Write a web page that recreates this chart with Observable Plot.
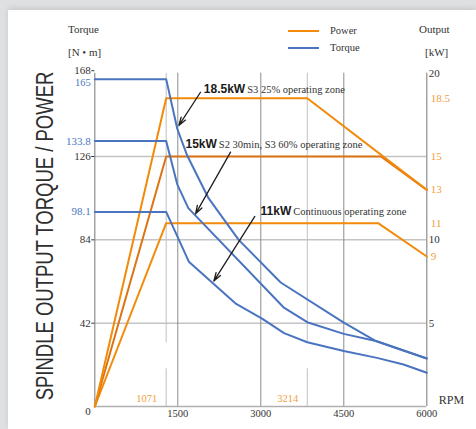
<!DOCTYPE html>
<html><head><meta charset="utf-8">
<script src="https://cdn.jsdelivr.net/npm/d3@7"></script>
<script src="https://cdn.jsdelivr.net/npm/@observablehq/plot@0.6"></script>
<style>
html,body{margin:0;padding:0;}
body{width:476px;height:429px;background:#dfe0e2;position:relative;overflow:hidden;font-family:"Liberation Serif",serif;}
#card{position:absolute;left:8px;top:10px;width:468px;height:419px;background:#fff;box-shadow:0 -2px 5px rgba(0,0,0,0.10);}
#chart{position:absolute;left:8px;top:10px;}
.lbl{position:absolute;font-size:11px;line-height:11px;color:#333;white-space:nowrap;}
.lg{position:absolute;height:2px;width:31px;}
</style></head><body>
<div id="card"></div>
<div id="chart"></div>
<div class="lbl" style="left:68px;top:24px;">Torque</div>
<div class="lbl" style="left:68px;top:47px;">[N • m]</div>
<div class="lbl" style="left:419px;top:24px;">Output</div>
<div class="lbl" style="left:425px;top:47px;">[kW]</div>
<div class="lg" style="left:288px;top:30px;background:#f28a0a;"></div>
<div class="lbl" style="left:330px;top:25px;font-size:10.5px;">Power</div>
<div class="lg" style="left:288px;top:47px;background:#4a74c0;"></div>
<div class="lbl" style="left:330px;top:42px;font-size:10.5px;">Torque</div>
<script>
// ---- data ----
const kwToNm = 168 / 20;           // right axis (kW) is linear with left axis (N·m)
const orange = "#f28a0a", orange15 = "#dc7414", blue = "#4a74c0";
const orangeText = "#f0a040", blueText = "#4a78c0";

const power185 = [[0,0],[1290,18.5],[3840,18.5],[6000,13]];
const power15  = [[0,0],[1290,15],[5170,15],[6000,13]];
const power11  = [[0,0],[1290,11],[5120,11],[6000,9]];

const torque185 = [[0,165],[1290,165],[1490,140],[1670,126.5],[2055,105],[2600,84],[3360,62.5],[4500,42.3],[5080,33],[6000,24.2]];
const torque15  = [[0,133.8],[1290,133.8],[1490,112],[1690,100],[3410,50],[3840,42.5],[4500,36.6],[5080,33],[6000,24.2]];
const torque11  = [[0,98.1],[1290,98.1],[1700,73],[2540,52],[3030,44.2],[3420,37],[3840,32.4],[4500,28],[5100,24.5],[5580,21.2],[6000,17]];

const xTicks = [1500, 3000, 4500, 6000];
const yTicksBlack = [42, 84, 126];
const yTickTop = [168];
const yTicksBlue = [98.1, 133.8];
const yTickBlueTop = [165];
const kwTicksBlack = [5, 10, 20];
const kwTicksOrange = [9, 11, 13, 15, 18.5];
const hGrid = [42, 84, 126];
const vGrid = [1500, 3000, 4500];
const markRpm = [1290, 3840];
const markLabels = ["1071", "3214"];

const annotations = [
  {x: 1970, y: 160.1, bold: "18.5kW", rest: "S3 25% operating zone"},
  {x: 1639, y: 132,   bold: "15kW",   rest: "S2 30min, S3 60% operating zone"},
  {x: 2995, y: 98.4,  bold: "11kW",   rest: "Continuous operating zone"}
];
const arrows = [
  {x1: 1910, y1: 158.4, x2: 1518, y2: 141.6},
  {x1: 2453, y1: 128.2, x2: 1821, y2: 97.1},
  {x1: 2892, y1: 95.8,  x2: 2151, y2: 63.2}
];

const kwLine = arr => arr.map(([r, k]) => ({x: r, y: k * kwToNm}));
const nmLine = arr => arr.map(([r, t]) => ({x: r, y: t}));
const fmtKw = d => String(+(d / kwToNm).toFixed(1));

const plot = Plot.plot({
  width: 468, height: 419,
  marginLeft: 86.3, marginRight: 49.7, marginTop: 62.7, marginBottom: 23,
  style: {background: "transparent", fontFamily: "'Liberation Serif', serif", fontSize: "11px", color: "#333", overflow: "visible"},
  x: {domain: [0, 6000]},
  y: {domain: [0, 168]},
  marks: [
    Plot.ruleY(hGrid, {stroke: "#c4c4c4", strokeWidth: 1.5}),
    Plot.ruleX(vGrid, {stroke: "#8c8c8c", strokeWidth: 1}),
    Plot.ruleX(markRpm, {y1: 32, y2: 168, stroke: "#c0c0c0", strokeWidth: 1}),
    Plot.ruleX(markRpm, {y1: 0, y2: 19, stroke: "#c0c0c0", strokeWidth: 1}),
    Plot.ruleX([0, 6000], {stroke: "#8c8c8c", strokeWidth: 1.2}),
    Plot.ruleY([0], {stroke: "#b0b0b0", strokeWidth: 1.5}),
    Plot.text(markLabels, {x: markRpm, y: 0, text: d => d, dx: -9, dy: -8, textAnchor: "end", fill: orangeText, fontSize: 10.5}),
    Plot.line(kwLine(power11), {x: "x", y: "y", stroke: orange, strokeWidth: 2}),
    Plot.line(kwLine(power15), {x: "x", y: "y", stroke: orange15, strokeWidth: 2}),
    Plot.line(kwLine(power185), {x: "x", y: "y", stroke: orange, strokeWidth: 2}),
    Plot.line(nmLine(torque11), {x: "x", y: "y", stroke: blue, strokeWidth: 2}),
    Plot.line(nmLine(torque15), {x: "x", y: "y", stroke: blue, strokeWidth: 2}),
    Plot.line(nmLine(torque185), {x: "x", y: "y", stroke: blue, strokeWidth: 2}),
    Plot.axisX({ticks: xTicks, tickFormat: d => String(d), tickSize: 0, tickPadding: 3, fontSize: 10.5, label: null}),
    Plot.axisY({ticks: yTicksBlack, tickSize: 3, tickPadding: 1, label: null, fontSize: 11}),
    Plot.axisY({ticks: yTickTop, tickSize: 3, tickPadding: 1, label: null, fontSize: 11, dy: -2.5}),
    Plot.axisY({ticks: yTicksBlue, tickFormat: d => String(d), tickSize: 0, tickPadding: 4, label: null, fill: blueText, fontSize: 11}),
    Plot.axisY({ticks: yTickBlueTop, tickFormat: d => String(d), tickSize: 0, tickPadding: 4, label: null, fill: blueText, fontSize: 10.5, dy: 3.5}),
    Plot.axisY({anchor: "right", ticks: kwTicksBlack.map(k => k * kwToNm), tickFormat: fmtKw, tickSize: 0, tickPadding: 2, label: null, fontSize: 11}),
    Plot.axisY({anchor: "right", ticks: kwTicksOrange.map(k => k * kwToNm), tickFormat: fmtKw, tickSize: 0, tickPadding: 4, label: null, fill: orangeText, fontSize: 11}),
    Plot.text(["0"], {x: 0, y: 0, text: d => d, dx: -4, dy: 5, textAnchor: "end", fontSize: 11}),
    Plot.text(["RPM"], {x: 6000, y: 0, text: d => d, dx: 12, dy: -6, textAnchor: "start", fontSize: 12}),
    Plot.arrow(arrows, {x1: "x1", y1: "y1", x2: "x2", y2: "y2", stroke: "#1e1e1e", strokeWidth: 1.3, headLength: 10, headAngle: 35}),
    Plot.text(annotations, {x: "x", y: "y", text: "bold", textAnchor: "start", fontWeight: "bold", fontFamily: "'Liberation Sans', Arial, sans-serif", fontSize: 12, fill: "#1a1a1a"})
  ]
});
document.getElementById("chart").appendChild(plot);

// continue annotation text with the serif part
const sel = d3.select(plot);
annotations.forEach(a => {
  sel.selectAll("text").filter(function() { return this.textContent === a.bold; })
    .append("tspan")
    .attr("style", "font-family:'Liberation Serif',serif;font-weight:normal;font-size:10.5px;fill:#333")
    .attr("dx", 2)
    .text(a.rest);
});

// rotated y title (tall, narrow letters)
sel.append("text")
  .attr("transform", "translate(45,226) rotate(-90) scale(1,1.3)")
  .attr("text-anchor", "middle")
  .attr("style", "font-family:'Liberation Sans',Arial,sans-serif;font-size:18.5px;fill:#2e2e2e")
  .text("SPINDLE OUTPUT TORQUE / POWER");
</script>
</body></html>
